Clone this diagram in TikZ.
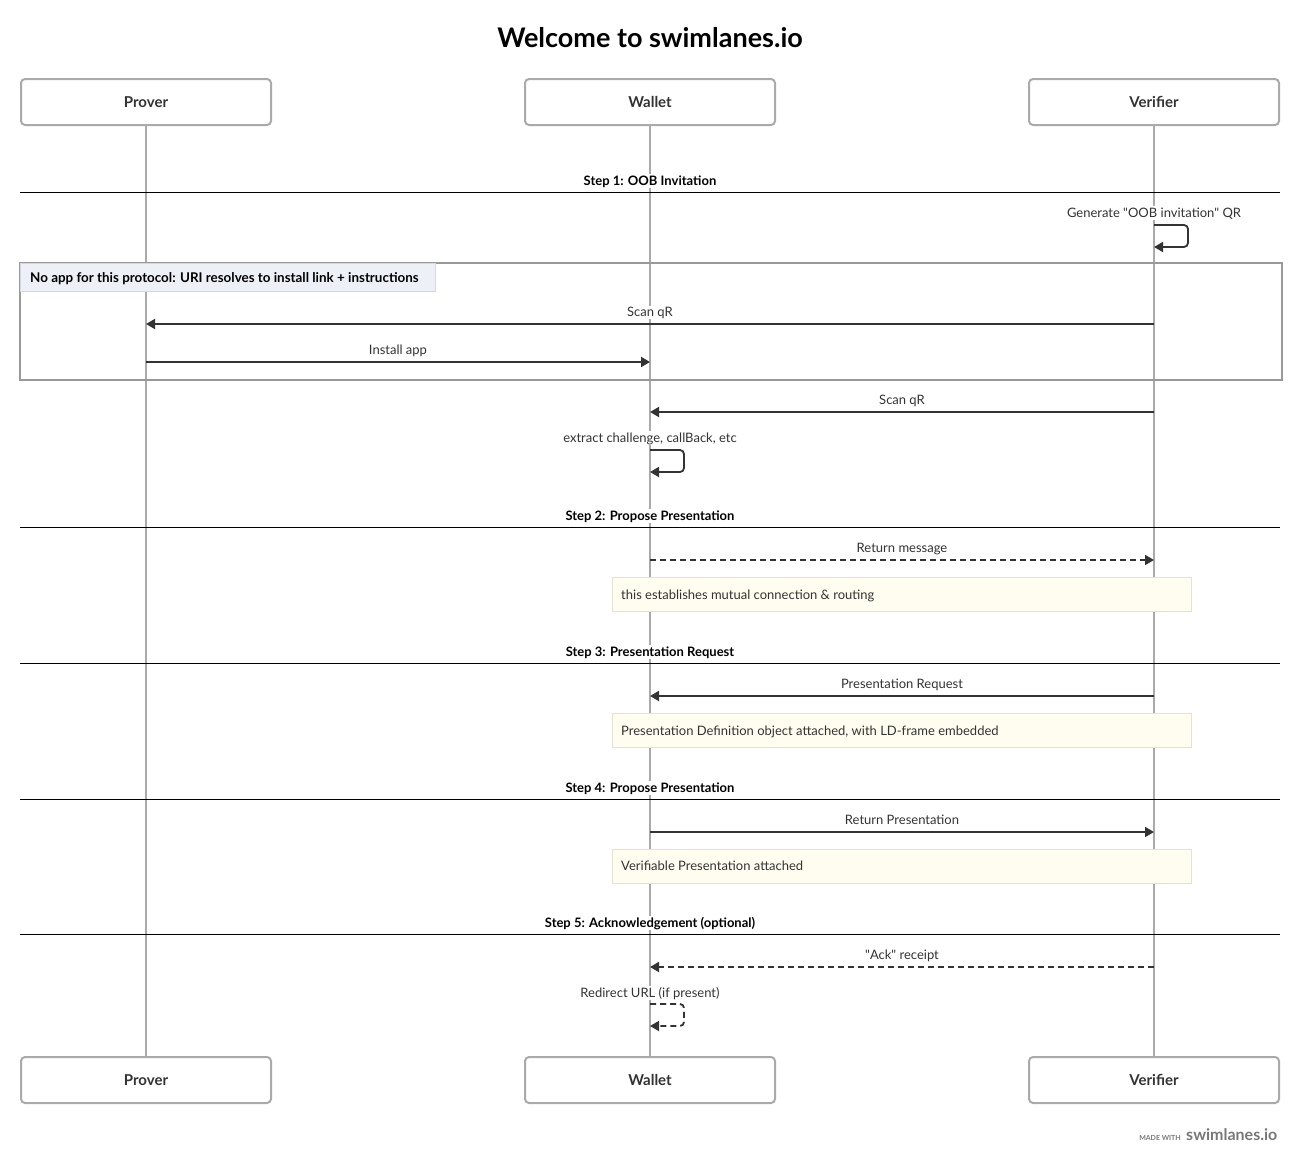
\documentclass[tikz,border=0pt]{standalone}
\usepackage{fontspec}
\setmainfont{Lato}
\newfontfamily\latoraw{Lato}
\usetikzlibrary{arrows.meta}
\definecolor{txt}{HTML}{333333}
\definecolor{lane}{HTML}{AAAAAA}
\definecolor{notefill}{HTML}{FFFDF0}
\definecolor{notedraw}{HTML}{E4E2D0}
\definecolor{grpfill}{HTML}{EEF0F8}
\definecolor{grpedge}{HTML}{D4D7E4}
\definecolor{grpdraw}{HTML}{999999}
\definecolor{foot}{HTML}{777777}
\newcommand{\sq}{{\latoraw"}}
\begin{document}
\begin{tikzpicture}[x=1pt,y=-1pt,
 actor/.style={draw=lane, line width=2pt, rounded corners=4pt, minimum width=250pt, minimum height=46pt, font=\fontsize{15}{18}\selectfont\bfseries, text=txt, fill=white},
 laneline/.style={draw=lane, line width=2pt},
 msg/.style={draw=txt, line width=1.8pt, -{Triangle[length=9pt,width=10pt]}},
 dmsg/.style={msg, dash pattern=on 6pt off 4pt},
 lbl/.style={font=\fontsize{13}{15}\selectfont, text=txt, anchor=base, fill=white, inner sep=1pt},
 steplbl/.style={font=\fontsize{13}{15}\selectfont\bfseries, text=black, anchor=base, fill=white, inner sep=1pt},
 sep/.style={draw=black, line width=1pt},
 notebox/.style={draw=notedraw, fill=notefill, line width=1pt, minimum width=579pt, minimum height=34pt, anchor=north west, inner sep=0pt},
 notetxt/.style={font=\fontsize{13}{15}\selectfont, text=txt, anchor=base west, inner sep=0pt},
]
\useasboundingbox (0,0) rectangle (1300,1164);

% title
\node[font=\fontsize{27}{32}\selectfont\bfseries, anchor=base] (title) at (650,48) {Welcome to swimlanes.io};

% actors
\node[actor] (P1) at (146,102) {Prover};
\node[actor] (W1) at (650,102) {Wallet};
\node[actor] (V1) at (1154,102) {Verifier};
\node[actor] (P2) at (146,1080) {Prover};
\node[actor] (W2) at (650,1080) {Wallet};
\node[actor] (V2) at (1154,1080) {Verifier};

% lifelines
\draw[laneline] (P1.south) -- (P2.north);
\draw[laneline] (W1.south) -- (W2.north);
\draw[laneline] (V1.south) -- (V2.north);

% step separators
\foreach \y/\n in {192/1,527/2,663/3,799/4,934/5}{
  \coordinate (s\n l) at (20,\y);
  \coordinate (s\n r) at (1280,\y);
  \draw[sep] (s\n l) -- (s\n r);
}
\node[steplbl] (st1) at (650,185) {Step 1: OOB Invitation};
\node[steplbl] (st2) at (650,520) {Step 2: Propose Presentation};
\node[steplbl] (st3) at (650,656) {Step 3: Presentation Request};
\node[steplbl] (st4) at (650,792) {Step 4: Propose Presentation};
\node[steplbl] (st5) at (650,927) {Step 5: Acknowledgement (optional)};

% Verifier self loop
\coordinate (va) at (1154,225);
\coordinate (vb) at (1154,247);
\node[lbl] (l0) at (1154,217) {Generate \sq OOB invitation\sq{} QR};
\draw[msg, rounded corners=4pt] (va) -- ++(34,0) -- ++(0,22) -- (vb);

% group box
\node[draw=grpdraw, line width=2pt, minimum width=1262pt, minimum height=117pt, anchor=north west, inner sep=0pt] (grp) at (19,262) {};
\node[fill=grpfill, draw=grpedge, line width=1pt, minimum width=415pt, minimum height=28pt, anchor=north west, inner sep=0pt] (grplbl) at (20,263) {};
\node[font=\fontsize{13.4}{15}\selectfont\bfseries, text=black, anchor=base west, inner sep=0pt] (grptxt) at (30,282) {No app for this protocol: URI resolves to install link + instructions};

% messages
\coordinate (m1v) at (1154,324); \coordinate (m1p) at (146,324);
\draw[msg] (m1v) -- (m1p);
\node[lbl] (l1) at (650,316) {Scan qR};

\coordinate (m2p) at (146,362); \coordinate (m2w) at (650,362);
\draw[msg] (m2p) -- (m2w);
\node[lbl] (l2) at (398,354) {Install app};

\coordinate (m3v) at (1154,412); \coordinate (m3w) at (650,412);
\draw[msg] (m3v) -- (m3w);
\node[lbl] (l3) at (902,404) {Scan qR};

\coordinate (wa) at (650,450); \coordinate (wb) at (650,472);
\node[lbl] (l4) at (650,442) {extract challenge, callBack, etc};
\draw[msg, rounded corners=4pt] (wa) -- ++(34,0) -- ++(0,22) -- (wb);

\coordinate (m5w) at (650,560); \coordinate (m5v) at (1154,560);
\draw[dmsg] (m5w) -- (m5v);
\node[lbl] (l5) at (902,552) {Return message};

\node[notebox] (n1) at (612,577) {};
\node[notetxt] (n1t) at (621,599) {this establishes mutual connection \& routing};

\coordinate (m6v) at (1154,696); \coordinate (m6w) at (650,696);
\draw[msg] (m6v) -- (m6w);
\node[lbl] (l6) at (902,688) {Presentation Request};

\node[notebox] (n2) at (612,713) {};
\node[notetxt] (n2t) at (621,735) {Presentation Definition object attached, with LD-frame embedded};

\coordinate (m7w) at (650,832); \coordinate (m7v) at (1154,832);
\draw[msg] (m7w) -- (m7v);
\node[lbl] (l7) at (902,824) {Return Presentation};

\node[notebox] (n3) at (612,849) {};
\node[notetxt] (n3t) at (621,870) {Verifiable Presentation attached};

\coordinate (m8v) at (1154,967); \coordinate (m8w) at (650,967);
\draw[dmsg] (m8v) -- (m8w);
\node[lbl] (l8) at (902,959) {\sq Ack\sq{} receipt};

\coordinate (wc) at (650,1004); \coordinate (wd) at (650,1026);
\node[lbl] (l9) at (650,997) {Redirect URL (if present)};
\draw[dmsg, rounded corners=4pt] (wc) -- ++(34,0) -- ++(0,22) -- (wd);

% footer
\node[font=\fontsize{7}{8}\selectfont\bfseries, text=foot, anchor=base east, inner sep=0pt] (made) at (1181,1140) {MADE WITH};
\node[font=\fontsize{16}{19}\selectfont\bfseries, text=foot, anchor=base west, inner sep=0pt] (sw) at (1186,1140) {swimlanes.io};
\end{tikzpicture}
\end{document}
